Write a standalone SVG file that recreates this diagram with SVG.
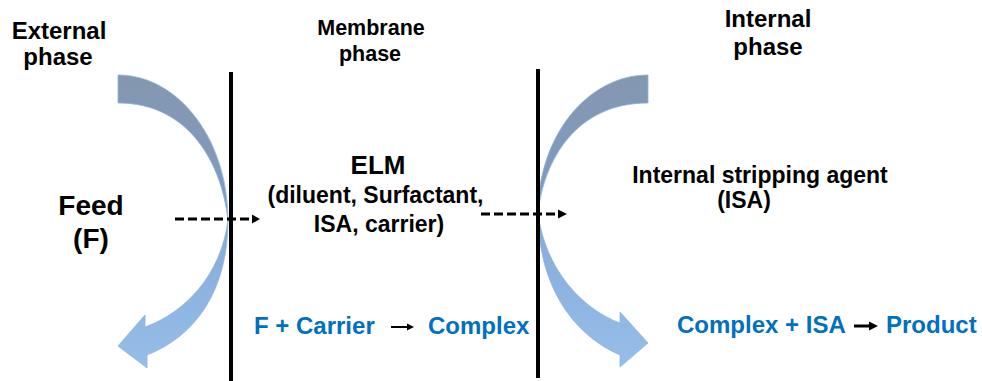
<svg xmlns="http://www.w3.org/2000/svg" width="982" height="381" viewBox="0 0 982 381">
<style>
  text { font-family: "Liberation Sans", Arial, sans-serif; font-weight: bold; }
  .blk { fill: #000; }
  .blue { fill: #0070C0; font-size: 24px; }
  .memb { stroke: #000; stroke-width: 4; }
  .dash { stroke: #000; stroke-width: 3; stroke-dasharray: 9 4; fill: none; }
  .upper { fill: url(#gUp); stroke: #8FB4E0; stroke-width: 0.8; }
  .lower { fill: url(#gLow); stroke: #8FB4E0; stroke-width: 0.8; }
</style>
<defs>
  <linearGradient id="gUp" x1="0" y1="0" x2="0" y2="1">
    <stop offset="0" stop-color="#8497B0"/>
    <stop offset="1" stop-color="#7F9CC2"/>
  </linearGradient>
  <linearGradient id="gLow" x1="0" y1="0" x2="0" y2="1">
    <stop offset="0" stop-color="#84AADA"/>
    <stop offset="1" stop-color="#97BEE8"/>
  </linearGradient>
</defs>
<rect width="982" height="381" fill="#fff"/>

<g id="left-curved-arrow">
  <path class="upper" d="M118,75 C178.8,75 228,140 228,220 C222,165 190,103 118,103 Z"/>
  <path class="lower" d="M228,220 C228,290 196,336 147,355 L147,368 L118,346 L145,315 L145,327 C184,313 221,276 228,220 Z"/>
</g>
<g id="right-curved-arrow">
  <path class="upper" d="M648,75 C587,75 538,137 538,213 C544,160 576,103 648,103 Z"/>
  <path class="lower" d="M538,213 C538,283 571,334 620,355 L620,367 L648,343 L620,312 L620,323 C582,309 545,269 538,213 Z"/>
</g>

<g id="membrane-walls">
  <line class="memb" x1="231" y1="72" x2="231" y2="381"/>
  <line class="memb" x1="538" y1="69" x2="538" y2="378"/>
</g>

<g id="connectors">
  <line class="dash" x1="175" y1="219" x2="253" y2="219"/>
  <path d="M252,214.5 L260,219 L252,223.5 Z" fill="#000"/>
  <line class="dash" x1="481" y1="214" x2="559" y2="214"/>
  <path d="M558,209.5 L567,214 L558,218.5 Z" fill="#000"/>
  <line x1="391" y1="327" x2="408" y2="327" stroke="#000" stroke-width="2"/>
  <path d="M407,323.5 L414,327 L407,330.5 Z" fill="#000"/>
  <line x1="854" y1="326" x2="870" y2="326" stroke="#000" stroke-width="3"/>
  <path d="M869,321.5 L878,326 L869,330.5 Z" fill="#000"/>
</g>

<g id="external-phase">
  <text class="blk" x="59" y="39" font-size="24" text-anchor="middle">External</text>
  <text class="blk" x="58" y="65" font-size="24" text-anchor="middle">phase</text>
</g>
<g id="membrane-phase">
  <text class="blk" x="371" y="35" font-size="21.5" text-anchor="middle">Membrane</text>
  <text class="blk" x="370" y="61" font-size="21.5" text-anchor="middle">phase</text>
</g>
<g id="internal-phase">
  <text class="blk" x="768" y="27" font-size="24" text-anchor="middle">Internal</text>
  <text class="blk" x="768" y="55" font-size="24" text-anchor="middle">phase</text>
</g>
<g id="feed">
  <text class="blk" x="91" y="215" font-size="28" text-anchor="middle">Feed</text>
  <text class="blk" x="91" y="248" font-size="28" text-anchor="middle">(F)</text>
</g>
<g id="elm">
  <text class="blk" x="378" y="174" font-size="26" text-anchor="middle">ELM</text>
  <text class="blk" x="375.5" y="203" font-size="23" text-anchor="middle">(diluent, Surfactant,</text>
  <text class="blk" x="379" y="232" font-size="23" text-anchor="middle">ISA, carrier)</text>
</g>
<g id="isa">
  <text class="blk" x="760" y="183" font-size="23" text-anchor="middle">Internal stripping agent</text>
  <text class="blk" x="744" y="208" font-size="23" text-anchor="middle">(ISA)</text>
</g>
<g id="reaction-membrane">
  <text class="blue" x="254" y="334">F + Carrier</text>
  <text class="blue" x="428" y="334">Complex</text>
</g>
<g id="reaction-internal">
  <text class="blue" x="677" y="333">Complex + ISA</text>
  <text class="blue" x="886" y="333">Product</text>
</g>
</svg>
